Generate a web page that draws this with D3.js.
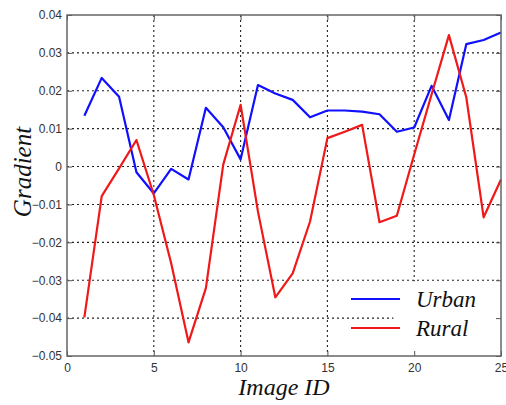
<!DOCTYPE html>
<html>
<head>
<meta charset="utf-8">
<script src="https://cdn.jsdelivr.net/npm/d3@7"></script>
<style>
  body { margin: 0; background: #fff; }
  svg { display: block; }
  .tick text { font-family: Arial, "Liberation Sans", sans-serif; font-size: 12px; fill: #333; }
  .title { font-family: "Liberation Serif", "Times New Roman", serif; font-style: italic; fill: #111; }
</style>
</head>
<body>
<svg></svg>
<script>
// image ids
const imageIds = d3.range(1, 26);

// gradient values
const urban = [0.0134, 0.0234, 0.0184, -0.0015, -0.0071, -0.0006, -0.0034, 0.0155, 0.0104, 0.0019,
  0.0215, 0.0193, 0.0176, 0.0130, 0.0148, 0.0148, 0.0145, 0.0138, 0.0092, 0.0103,
  0.0213, 0.0123, 0.0323, 0.0334, 0.0354];
const rural = [-0.0398, -0.0078, -0.0005, 0.0070, -0.0075, -0.0255, -0.0464, -0.0321, 0.0005, 0.0163,
  -0.0119, -0.0345, -0.0282, -0.0145, 0.0075, 0.0092, 0.0110, -0.0147, -0.0130, 0.0032,
  0.0190, 0.0347, 0.0183, -0.0134, -0.0034];

const xTicks = [0, 5, 10, 15, 20, 25];
const yTicks = [0.04, 0.03, 0.02, 0.01, 0, -0.01, -0.02, -0.03, -0.04, -0.05];

const seriesNames = ['Urban', 'Rural'];
const seriesColors = ['#1010ff', '#f01818'];

const width = 506, height = 405;
const margin = { top: 15, right: 5, bottom: 49, left: 67 };
const innerW = width - margin.left - margin.right;
const innerH = height - margin.top - margin.bottom;

const svg = d3.select('svg')
    .attr('width', width)
    .attr('height', height);

const g = svg.append('g')
    .attr('transform', 'translate(' + margin.left + ',' + margin.top + ')');

const x = d3.scaleLinear().domain([0, 25]).range([0, innerW]);
const y = d3.scaleLinear().domain([-0.05, 0.04]).range([innerH, 0]);

// dotted grid
g.selectAll('.gx')
    .data(xTicks.slice(1, -1))
    .enter()
    .append('line')
    .attr('x1', d => x(d)).attr('x2', d => x(d))
    .attr('y1', 0).attr('y2', innerH)
    .attr('stroke', '#222')
    .attr('stroke-width', 1.1)
    .attr('stroke-dasharray', '2,3');

g.selectAll('.gy')
    .data(yTicks.slice(1, -1))
    .enter()
    .append('line')
    .attr('x1', 0).attr('x2', innerW)
    .attr('y1', d => y(d)).attr('y2', d => y(d))
    .attr('stroke', '#222')
    .attr('stroke-width', 1.1)
    .attr('stroke-dasharray', '2,3');

// legend backdrop hides the grid in the corner
g.append('rect')
    .attr('x', x(18.8))
    .attr('y', y(-0.0303))
    .attr('width', innerW - x(18.8))
    .attr('height', innerH - y(-0.0303))
    .attr('fill', '#fff');

// series lines
const line = d3.line()
    .x((d, i) => x(imageIds[i]))
    .y(d => y(d));

g.selectAll('.series')
    .data([urban, rural])
    .enter()
    .append('path')
    .attr('fill', 'none')
    .attr('stroke', (d, i) => seriesColors[i])
    .attr('stroke-width', 2.2)
    .attr('stroke-linejoin', 'round')
    .attr('d', line);

// axes, ticks pointing inward like matlab
const fmt = d => d === 0 ? '0' : d3.format('.2f')(d);

g.append('g')
    .attr('transform', 'translate(0,' + innerH + ')')
    .call(d3.axisBottom(x).tickValues(xTicks).tickSizeInner(-5).tickSizeOuter(0).tickPadding(7))
    .call(a => a.select('.domain').remove());

g.append('g')
    .call(d3.axisLeft(y).tickValues(yTicks).tickFormat(fmt).tickSizeInner(-5).tickSizeOuter(0).tickPadding(5))
    .call(a => a.select('.domain').remove());

g.append('g')
    .call(d3.axisTop(x).tickValues(xTicks).tickSizeInner(-5).tickSizeOuter(0).tickFormat(''))
    .call(a => a.select('.domain').remove());

g.append('g')
    .attr('transform', 'translate(' + innerW + ',0)')
    .call(d3.axisRight(y).tickValues(yTicks).tickSizeInner(-5).tickSizeOuter(0).tickFormat(''))
    .call(a => a.select('.domain').remove());

g.selectAll('.tick line').attr('stroke', '#555');

g.append('rect')
    .attr('width', innerW)
    .attr('height', innerH)
    .attr('fill', 'none')
    .attr('stroke', '#666')
    .attr('stroke-width', 1.5);

// legend
const legend = g.selectAll('.legend')
    .data(seriesNames)
    .enter()
    .append('g')
    .attr('transform', (d, i) => 'translate(' + (351 - margin.left) + ',' + (299 - margin.top + i * 29) + ')');

legend.append('line')
    .attr('x1', 0).attr('x2', 49)
    .attr('stroke', (d, i) => seriesColors[i])
    .attr('stroke-width', 2);

legend.append('text')
    .attr('class', 'title')
    .attr('x', 65)
    .attr('y', 8)
    .style('font-size', '23px')
    .text(d => d);

// axis titles
svg.append('text')
    .attr('class', 'title')
    .attr('text-anchor', 'middle')
    .attr('x', margin.left + innerW / 2)
    .attr('y', 395)
    .style('font-size', '24px')
    .text('Image ID');

svg.append('text')
    .attr('class', 'title')
    .attr('text-anchor', 'middle')
    .attr('transform', 'translate(31,172) rotate(-90)')
    .style('font-size', '25px')
    .text('Gradient');
</script>
</body>
</html>
